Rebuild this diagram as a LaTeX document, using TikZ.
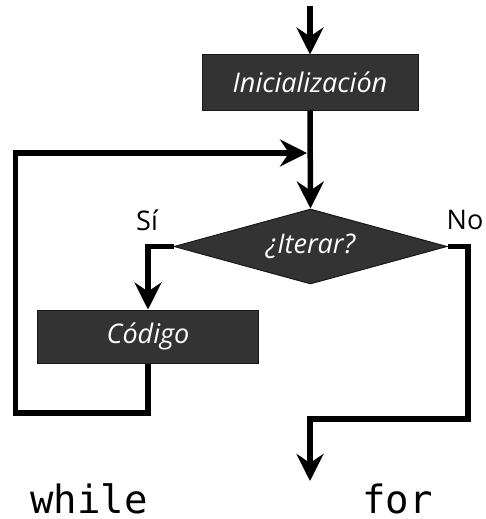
\documentclass[tikz,border=0pt]{standalone}
\usepackage{fontspec}
\setmainfont{Open Sans}
\newfontfamily\monofont{DejaVu Sans Mono}
\usetikzlibrary{shapes.geometric,arrows.meta}
\definecolor{boxfill}{RGB}{51,51,51}
\definecolor{boxline}{RGB}{25,25,25}
\begin{document}
\begin{tikzpicture}[x=1pt,y=-1pt,
  procbox/.style={rectangle,draw=boxline,line width=1pt,fill=boxfill,text=white,
    font=\fontsize{27}{32}\selectfont\itshape,inner sep=0pt},
  decbox/.style={diamond,draw=boxline,line width=1pt,fill=boxfill,text=white,
    font=\fontsize{27}{32}\selectfont\itshape,inner sep=0pt,
    minimum width=273pt,minimum height=75pt,shape aspect=3.64},
  lbl/.style={font=\fontsize{27}{32}\selectfont,inner sep=0pt},
  kw/.style={font=\fontsize{39}{44}\monofont,inner sep=0pt,anchor=base west},
  flow/.style={line width=5.5pt,line join=miter,draw=black},
  arr/.style={flow,-{Stealth[length=27pt,width=27pt,inset=9pt]}}
]
\useasboundingbox (0,0) rectangle (486,519);

\coordinate (start) at (310,6);
\node[procbox,minimum width=216pt,minimum height=55pt] (init) at (310,82.5) {Inicialización};
\node[decbox] (iter) at (310.5,246.5) {¿Iterar?};
\node[procbox,minimum width=221pt,minimum height=53pt] (code) at (148,336.5) {Código};

\node[lbl] (si) at (147,220) {Sí};
\node[lbl] (no) at (465,220) {No};

\coordinate (lb) at (15.5,413);
\coordinate (lt) at (15.5,153);
\coordinate (join) at (307,153);
\coordinate (nr) at (468,419);
\coordinate (exit) at (310,481);

\draw[arr] (start) -- (init.north);
\draw[arr] (init.south) -- (iter.north);
\draw[arr] (iter.west) -| (code.north);
\draw[arr] (code.south) |- (lb) -- (lt) -- (join);
\draw[arr] (iter.east) -| (nr) -| (exit);

\node[kw] (while) at (30,513) {while};
\node[kw] (for) at (362,513) {for};
\end{tikzpicture}
\end{document}
